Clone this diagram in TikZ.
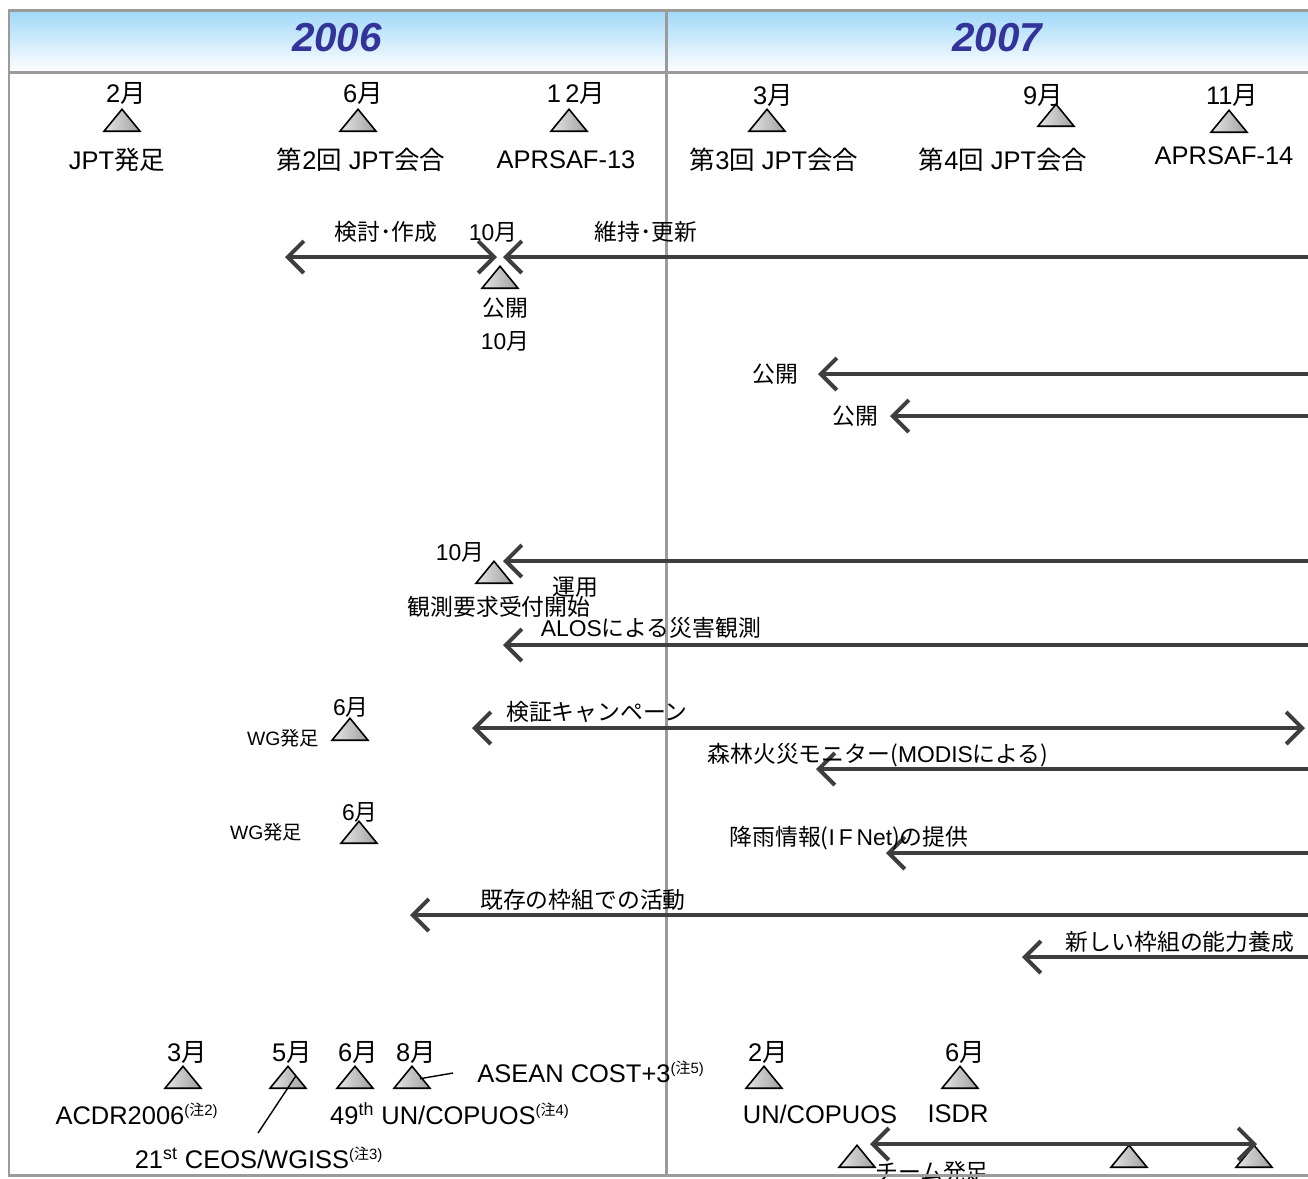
\documentclass[tikz,border=0pt]{standalone}
\usepackage{fontspec}
\setmainfont{Liberation Sans}
\newfontfamily\jp{Noto Sans CJK JP}
\usetikzlibrary{arrows.meta, shapes.geometric, positioning}
\definecolor{yearblue}{RGB}{51, 51, 153}
\definecolor{headsky}{RGB}{160, 216, 248}
\definecolor{framegray}{RGB}{155, 155, 155}
\definecolor{bardark}{RGB}{62, 62, 62}
\newcommand{\chu}[1]{\textsuperscript{\fontsize{8.5}{9}\selectfont({\jp 注}#1)}}
\tikzset{
  mile/.style={isosceles triangle, isosceles triangle stretches, shape border rotate=90,
    minimum width=0.72cm, minimum height=0.44cm, inner sep=0pt, anchor=lower side,
    draw=black, line width=0.9pt, left color=gray!20, right color=gray!75},
  lbl/.style={font=\fontsize{14.5}{16}\selectfont, inner sep=0pt},
  lblmid/.style={font=\fontsize{13}{15}\selectfont, inner sep=0pt},
  lblsmall/.style={font=\fontsize{11}{13}\selectfont, inner sep=0pt},
  bar/.style={draw=bardark, line width=2.3pt},
  barb/.style={-{Straight Barb[length=3.2mm, width=6.4mm]}},
  callout/.style={draw=black, line width=0.8pt}
}

\begin{document}
\begin{tikzpicture}[x=0.02cm, y=-0.02cm]
  \useasboundingbox (0,0) rectangle (1308,1178);
  \clip (0,0) rectangle (1308,1178);

  % --- Frame and year header ---
  \fill[top color=headsky, bottom color=white] (9,10) rectangle (1308,72);
  \draw[framegray, line width=1.7pt] (1308,10) -- (9,10) -- (9,1175) -- (1308,1175);
  \draw[framegray, line width=1.7pt] (9,72) -- (1308,72);
  \draw[framegray, line width=1.7pt] (666,10) -- (666,1175);
  \node[font=\fontsize{23}{26}\selectfont\bfseries\itshape, text=yearblue] (y2006) at (337,38) {2006};
  \node[font=\fontsize{23}{26}\selectfont\bfseries\itshape, text=yearblue] (y2007) at (997,38) {2007};

  % --- Meetings ---
  \node[lbl] (mfeb06) at (126,93) {2{\jp 月}};
  \node[mile] (tfeb06) at (122,132) {};
  \node[lbl] (jpt0) at (117,160) {JPT{\jp 発足}};
  \node[lbl] (mjun06) at (363,93) {6{\jp 月}};
  \node[mile] (tjun06) at (358,132) {};
  \node[lbl] (jpt2) at (361,160) {{\jp 第}2{\jp 回} JPT{\jp 会合}};
  \node[lbl] (mdec06) at (576,93) {1\,2{\jp 月}};
  \node[mile] (tdec06) at (569,132) {};
  \node[lbl] (aprsaf13) at (566,160) {APRSAF-13};
  \node[lbl] (mmar07) at (773,95) {3{\jp 月}};
  \node[mile] (tmar07) at (767,132) {};
  \node[lbl] (jpt3) at (774,160) {{\jp 第}3{\jp 回} JPT{\jp 会合}};
  \node[lbl] (msep07) at (1043,95) {9{\jp 月}};
  \node[mile] (tsep07) at (1056,127) {};
  \node[lbl] (jpt4) at (1003,160) {{\jp 第}4{\jp 回} JPT{\jp 会合}};
  \node[lbl] (mnov07) at (1232,95) {11{\jp 月}};
  \node[mile] (tnov07) at (1229,133) {};
  \node[lbl] (aprsaf14) at (1224,156) {APRSAF-14};

  % --- Study / update ---
  \coordinate (kento-l) at (285,257);
  \coordinate (kento-r) at (497,257);
  \coordinate (koshin-l) at (503,257);
  \coordinate (koshin-r) at (1308,257);
  \draw[bar, {Straight Barb[length=3.2mm, width=6.4mm]}-{Straight Barb[length=3.2mm, width=6.4mm]}] (kento-l) -- (kento-r);
  \draw[bar, barb] (koshin-r) -- (koshin-l);
  \node[lblmid] (kento) at (386,232) {{\jp 検討･作成}};
  \node[lblmid] (moct06a) at (493,232) {10{\jp 月}};
  \node[lblmid] (koshin) at (646,232) {{\jp 維持･更新}};
  \node[mile] (tpub) at (500,289) {};
  \node[lblmid] (kokai0) at (505,308) {{\jp 公開}};
  \node[lblmid] (moct06b) at (505,341) {10{\jp 月}};

  % --- Publication ---
  \coordinate (kokai1-l) at (818,374);
  \coordinate (kokai1-r) at (1308,374);
  \draw[bar, barb] (kokai1-r) -- (kokai1-l);
  \node[lblmid] (kokai1) at (775,374) {{\jp 公開}};
  \coordinate (kokai2-l) at (890,416);
  \coordinate (kokai2-r) at (1308,416);
  \draw[bar, barb] (kokai2-r) -- (kokai2-l);
  \node[lblmid] (kokai2) at (855,416) {{\jp 公開}};

  % --- Operation ---
  \coordinate (unyo-l) at (503,561);
  \coordinate (unyo-r) at (1308,561);
  \draw[bar, barb] (unyo-r) -- (unyo-l);
  \node[lblmid] (moct06c) at (460,552) {10{\jp 月}};
  \node[mile] (tobs) at (494,584) {};
  \node[lblmid] (unyo) at (575,587) {{\jp 運用}};
  \node[lblmid] (uketsuke) at (499,607) {{\jp 観測要求受付開始}};
  \coordinate (alos-l) at (503,645);
  \coordinate (alos-r) at (1308,645);
  \draw[bar, barb] (alos-r) -- (alos-l);
  \node[lblmid] (alos) at (651,628) {ALOS{\jp による災害観測}};

  % --- Working groups ---
  \node[lblmid] (mjun06wg1) at (351,707) {6{\jp 月}};
  \node[mile] (twg1) at (350,741) {};
  \node[lblsmall] (wg1) at (283,738) {WG{\jp 発足}};
  \coordinate (camp-l) at (472,728);
  \coordinate (camp-r) at (1305,728);
  \draw[bar, {Straight Barb[length=3.2mm, width=6.4mm]}-{Straight Barb[length=3.2mm, width=6.4mm]}] (camp-l) -- (camp-r);
  \node[lblmid] (camp) at (597,712) {{\jp 検証キャンペーン}};
  \coordinate (modis-l) at (816,769);
  \coordinate (modis-r) at (1308,769);
  \draw[bar, barb] (modis-r) -- (modis-l);
  \node[lblmid] (modis) at (878,755) {{\jp 森林火災モニター(}MODIS{\jp による)}};
  \node[lblmid] (mjun06wg2) at (360,812) {6{\jp 月}};
  \node[mile] (twg2) at (359,844) {};
  \node[lblsmall] (wg2) at (266,832) {WG{\jp 発足}};
  \coordinate (ifnet-l) at (886,853);
  \coordinate (ifnet-r) at (1308,853);
  \draw[bar, barb] (ifnet-r) -- (ifnet-l);
  \node[lblmid] (ifnet) at (849,838) {{\jp 降雨情報(}I\,F\,Net{\jp )の提供}};

  % --- Capacity building ---
  \coordinate (kizon-l) at (410,915);
  \coordinate (kizon-r) at (1308,915);
  \draw[bar, barb] (kizon-r) -- (kizon-l);
  \node[lblmid] (kizon) at (583,900) {{\jp 既存の枠組での活動}};
  \coordinate (atarashii-l) at (1022,957);
  \coordinate (atarashii-r) at (1308,957);
  \draw[bar, barb] (atarashii-r) -- (atarashii-l);
  \node[lblmid] (atarashii) at (1180,942) {{\jp 新しい枠組の能力養成}};

  % --- International events ---
  \node[lbl] (mmar06) at (187,1052) {3{\jp 月}};
  \node[mile] (tmar06) at (183,1089) {};
  \node[lbl] (acdr) at (137,1114) {ACDR2006\chu{2}};
  \node[lbl] (mmay06) at (292,1052) {5{\jp 月}};
  \node[mile] (tmay06) at (288,1089) {};
  \node[lbl] (ceos) at (259,1158) {21\textsuperscript{st} CEOS/WGISS\chu{3}};
  \coordinate (ceos-pin) at (258,1133);
  \draw[callout] ([shift={(8,-4)}]tmay06.center) -- (ceos-pin);
  \node[lbl] (mjun06c) at (358,1052) {6{\jp 月}};
  \node[mile] (tjun06c) at (355,1089) {};
  \node[lbl] (copuos49) at (450,1114) {49\textsuperscript{th} UN/COPUOS\chu{4}};
  \node[lbl] (maug06) at (416,1052) {8{\jp 月}};
  \node[mile] (taug06) at (412,1089) {};
  \node[lbl] (asean) at (591,1072) {ASEAN COST+3\chu{5}};
  \coordinate (asean-pin) at (453,1073);
  \draw[callout] ([shift={(8,-1)}]taug06.center) -- (asean-pin);
  \node[lbl] (mfeb07) at (768,1052) {2{\jp 月}};
  \node[mile] (tfeb07) at (764,1089) {};
  \node[lbl] (copuos) at (820,1114) {UN/COPUOS};
  \node[lbl] (mjun07) at (965,1052) {6{\jp 月}};
  \node[mile] (tjun07) at (960,1089) {};
  \node[lbl] (isdr) at (958,1114) {ISDR};

  % --- Team ---
  \node[mile] (tteam1) at (857,1168) {};
  \node[mile] (tteam2) at (1129,1168) {};
  \node[mile] (tteam3) at (1254,1168) {};
  \coordinate (team-l) at (870,1144);
  \coordinate (team-r) at (1257,1144);
  \draw[bar, {Straight Barb[length=3.2mm, width=6.4mm]}-{Straight Barb[length=3.2mm, width=6.4mm]}] (team-l) -- (team-r);
  \node[lblmid] (team) at (932,1172) {{\jp チーム発足}};
  \draw[framegray, line width=1.7pt] (9,1175) -- (1308,1175);
\end{tikzpicture}
\end{document}
